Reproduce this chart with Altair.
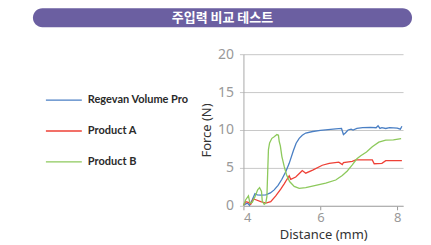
import altair as alt
import pandas as pd

title_text = "주입력 비교 테스트"
series_names = ["Regevan Volume Pro", "Product A", "Product B"]
series_colors = ["#4a7fc4", "#ee4036", "#8dc95c"]

blue_x = [4.0, 4.1, 4.16, 4.23, 4.3, 4.36, 4.45, 4.58, 4.7, 4.8, 4.9, 5.0, 5.1, 5.19, 5.3, 5.37, 5.45, 5.53, 5.62, 5.8, 6.0, 6.2, 6.4, 6.55, 6.6, 6.65, 6.72, 6.8, 6.85, 6.95, 7.1, 7.3, 7.45, 7.5, 7.55, 7.6, 7.7, 7.8, 8.0, 8.08, 8.12]
blue_y = [0.1, 0.35, 0.05, 0.8, 1.6, 1.45, 1.4, 1.45, 1.7, 2.1, 2.7, 3.5, 4.5, 5.6, 7.3, 8.25, 8.9, 9.3, 9.6, 9.8, 9.95, 10.05, 10.15, 10.2, 9.4, 9.6, 10.0, 10.1, 10.0, 10.2, 10.3, 10.35, 10.3, 10.55, 10.2, 10.3, 10.2, 10.3, 10.25, 10.1, 10.5]

red_x = [4.0, 4.06, 4.13, 4.19, 4.26, 4.32, 4.45, 4.58, 4.71, 4.84, 4.97, 5.06, 5.12, 5.19, 5.23, 5.36, 5.5, 5.53, 5.62, 5.8, 6.05, 6.23, 6.48, 6.57, 6.6, 6.83, 6.92, 7.35, 7.4, 7.6, 7.7, 8.12]
red_y = [0.1, 0.55, 0.45, 0.2, 0.9, 0.8, 0.55, 0.35, 0.55, 1.3, 2.2, 2.9, 3.4, 3.95, 3.5, 3.8, 4.5, 4.65, 4.3, 4.7, 5.35, 5.6, 5.75, 5.45, 5.7, 5.85, 6.05, 6.05, 5.55, 5.6, 5.95, 5.95]

green_x = [4.0, 4.06, 4.13, 4.17, 4.23, 4.3, 4.37, 4.42, 4.47, 4.49, 4.54, 4.58, 4.61, 4.63, 4.65, 4.68, 4.74, 4.8, 4.87, 4.91, 4.93, 4.96, 5.0, 5.06, 5.12, 5.2, 5.32, 5.45, 5.62, 5.88, 6.14, 6.4, 6.57, 6.7, 6.83, 6.95, 7.05, 7.2, 7.35, 7.52, 7.7, 7.9, 8.1]
green_y = [0.05, 0.8, 1.3, 0.35, 0.45, 1.2, 2.1, 2.4, 1.9, 0.6, 0.2, 0.35, 1.2, 4.3, 7.4, 8.3, 8.9, 9.1, 9.4, 9.3, 8.5, 7.9, 6.5, 5.2, 4.1, 3.2, 2.55, 2.3, 2.4, 2.7, 3.0, 3.4, 4.0, 4.6, 5.4, 6.2, 6.6, 7.1, 7.8, 8.4, 8.65, 8.7, 8.85]

rows = []
for name, xs, ys in zip(series_names, [blue_x, red_x, green_x], [blue_y, red_y, green_y]):
    for i, (x, y) in enumerate(zip(xs, ys)):
        rows.append({"series": name, "x": x, "y": y, "order": i})
df = pd.DataFrame(rows)

lines = alt.Chart(df).mark_line(strokeWidth=1.3).encode(
    x=alt.X("x:Q", scale=alt.Scale(domain=[4, 8.15], nice=False),
            axis=alt.Axis(values=[4, 6, 8], grid=False, title="Distance (mm)",
                          tickColor="#999", tickSize=4, domainColor="#aaa",
                          labelColor="#999", labelFontSize=13, labelFont="Noto Sans",
                          titleFont="Noto Sans", titleFontSize=13, titleFontWeight="normal",
                          titleColor="#333", labelPadding=2, titlePadding=4)),
    y=alt.Y("y:Q", scale=alt.Scale(domain=[0, 20], nice=False),
            axis=alt.Axis(values=[0, 5, 10, 15, 20], grid=True, gridColor="#c8c8c8",
                          title="Force (N)", tickColor="#c8c8c8", tickSize=4, domainColor="#aaa",
                          labelColor="#999", labelFontSize=14, labelFont="Noto Sans",
                          titleFont="Noto Sans", titleFontSize=13, titleFontWeight="normal",
                          titleColor="#333", labelPadding=6, titlePadding=4)),
    color=alt.Color("series:N", scale=alt.Scale(domain=series_names, range=series_colors),
                    legend=alt.Legend(orient="none", legendX=-199, legendY=27, title=None,
                                      symbolType="stroke", symbolSize=1296, symbolStrokeWidth=1.3,
                                      labelFont="Lato", labelFontSize=11, labelFontWeight="bold",
                                      labelColor="#2a2a2a", labelOffset=5, rowPadding=7)),
    order="order:Q",
    detail="series:N",
)

title_df = pd.DataFrame({"t": [title_text]})
bar = alt.Chart(title_df).mark_rect(color="#6b5fa1", cornerRadius=10).encode(
    x=alt.value(-211), x2=alt.value(169), y=alt.value(-46), y2=alt.value(-27))
title = alt.Chart(title_df).mark_text(color="white", font="Noto Sans CJK KR", fontSize=13,
                                       fontWeight="bold", align="center", baseline="middle").encode(
    x=alt.value(-21), y=alt.value(-36.5), text="t:N")

chart = alt.layer(bar, title, lines).properties(
    width=160, height=152,
    autosize=alt.AutoSizeParams(type="none"),
    padding={"left": 236, "top": 46, "right": 20, "bottom": 38},
).configure_view(stroke=None)

chart.save("out.html", embed_options={"renderer": "svg", "actions": False})
